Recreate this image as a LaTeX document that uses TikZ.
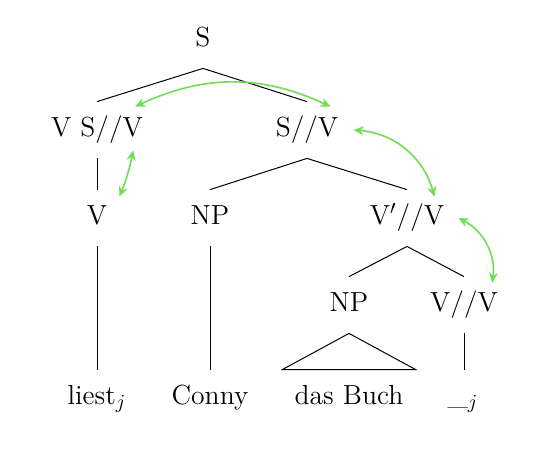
\documentclass[tikz,border=0pt]{standalone}
\usetikzlibrary{arrows.meta}
\definecolor{arr}{RGB}{110,222,85}
\begin{document}
\begin{tikzpicture}[x=0.5pt,y=-0.5pt,
  every node/.style={font=\fontsize{13.8}{16}\selectfont, inner sep=0pt,
    text height=9.6pt, text depth=3pt, minimum height=28pt},
  tree/.style={line width=0.5pt},
  mv/.style={draw=arr, line width=0.8pt,
    {Stealth[length=5pt,width=4.5pt]}-{Stealth[length=5pt,width=4.5pt]}}]
\useasboundingbox (0,0) rectangle (540,452);
% nodes
\node (S) at (203,40) {S};
\node (VSV) at (97,130) {V S//V};
\node (SV) at (307,130) {S//V};
\node (V) at (97,218) {V};
\node (NPa) at (210,218) {NP};
\node (Vp) at (407,218) {V$'$//V};
\node (NPb) at (349,305) {NP};
\node (VV) at (464,305) {V//V};
\node (liest) at (97,398) {liest$_j$};
\node (Conny) at (210,398) {Conny};
\node (Buch) at (349,398) {das Buch};
\node (tr) at (463,398) {\_$_j$};
% tree lines
\draw[tree] (S.south) -- (VSV.north);
\draw[tree] (S.south) -- (SV.north);
\draw[tree] (VSV.south) -- (V.north);
\draw[tree] (SV.south) -- (NPa.north);
\draw[tree] (SV.south) -- (Vp.north);
\draw[tree] (V.south) -- (liest.north);
\draw[tree] (NPa.south) -- (Conny.north);
\draw[tree] (Vp.south) -- (NPb.north);
\draw[tree] (Vp.south) -- (VV.north);
\draw[tree] (NPb.south) -- ([xshift=-6pt]Buch.north west) -- ([xshift=6pt]Buch.north east) -- cycle;
\draw[tree] (VV.south) -- (VV.south |- tr.north);
% movement arrows
\draw[mv] ([xshift=-4pt,yshift=-2.5pt]VSV.north east) to[bend left=25] ([xshift=-4pt,yshift=-2.5pt]SV.north east);
\draw[mv] ([xshift=7.5pt]SV.east) to[bend left=35] ([xshift=-5pt,yshift=-3.5pt]Vp.north east);
\draw[mv] ([xshift=7pt]Vp.east) to[bend left=35] ([xshift=-3pt,yshift=-3pt]VV.north east);
\draw[mv] ([xshift=-5pt,yshift=4pt]VSV.south east) to[bend left=5] ([xshift=6pt,yshift=-3.5pt]V.north east);
\end{tikzpicture}
\end{document}
